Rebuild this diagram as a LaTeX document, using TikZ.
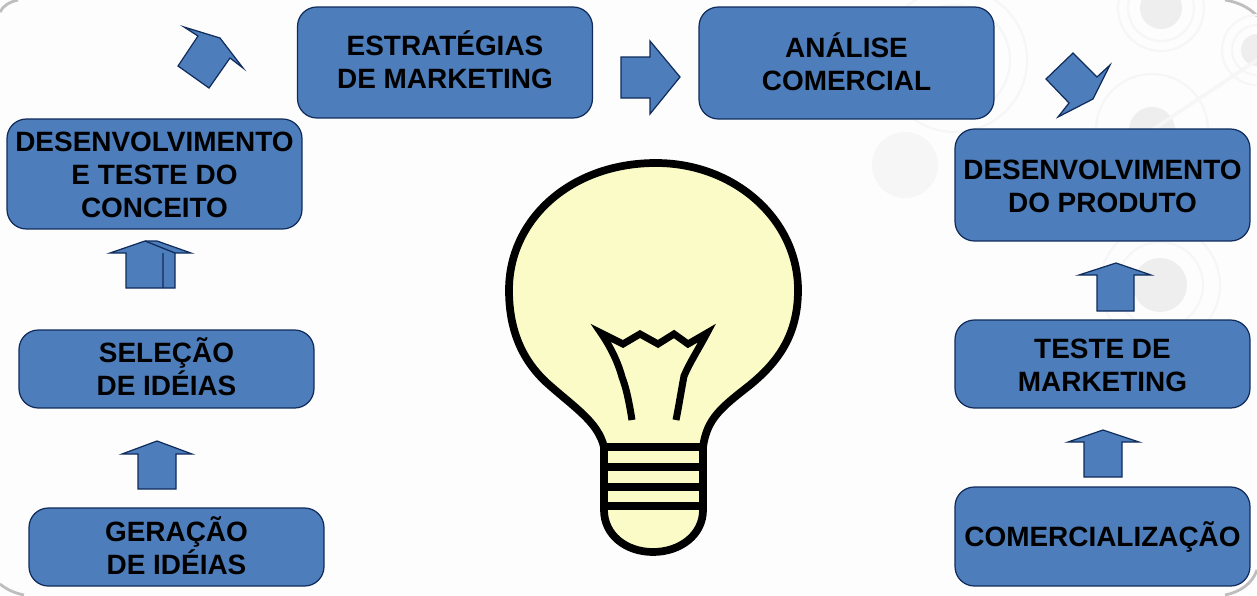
\documentclass[tikz,border=0pt]{standalone}
\usepackage{fontspec}
\setmainfont{Liberation Sans}
\definecolor{stageBlue}{RGB}{77, 125, 186}
\definecolor{stageLine}{RGB}{16, 44, 92}
\definecolor{bulbYellow}{RGB}{251, 251, 200}
\definecolor{paperGray}{RGB}{253, 253, 253}
\definecolor{ringGray}{RGB}{238, 238, 238}
\definecolor{ringPale}{RGB}{246, 246, 246}
\definecolor{cornerGray}{RGB}{190, 190, 190}
\usepackage{tikz}
\usetikzlibrary{positioning, calc}
\newcommand{\liftline}[1]{\rule[-#1]{0pt}{#1}}
\newcommand{\dropline}[1]{\rule{0pt}{#1}}

\begin{document}
\begin{tikzpicture}[
    x=0.02cm, y=-0.02cm,
    stagebox/.style={rectangle, draw=stageLine, fill=stageBlue, line width=0.7pt,
                    minimum width=5.9cm, inner sep=0pt,
                    align=center, rounded corners=11pt,
                    font=\fontsize{15.9}{18.7}\selectfont\bfseries},
    blockarrow/.style={draw=stageLine, fill=stageBlue, line width=0.7pt, line join=miter},
    bulbline/.style={draw=black, line width=4.4pt, line join=round},
    ring/.style={draw=ringPale, line width=1.2pt},
    ringcore/.style={fill=ringGray},
    cornerarc/.style={draw=cornerGray, line width=1.6pt},
  ]
    % Background
    \useasboundingbox (0,0) rectangle (1257,595);
    \fill[paperGray] (0,0) rectangle (1257,595);
    \draw[cornerarc] (0,12) .. controls (3,6) and (9,2) .. (18,0);
    \draw[cornerarc] (1225,0) .. controls (1238,2) and (1250,8) .. (1257,16);
    \draw[cornerarc] (0,584) .. controls (6,589) and (14,593) .. (24,595);
    \draw[cornerarc] (1225,595) .. controls (1240,592) and (1252,584) .. (1257,570);
    \fill[ringcore] (1161,8) circle (21);
    \draw[ring] (1161,8) circle (33) (1161,8) circle (43);
    \fill[ringcore] (1257,50) circle (16);
    \draw[ring] (1257,50) circle (25) (1257,50) circle (35);
    \fill[ringcore] (1152,130) circle (23);
    \draw[ring] (1152,130) circle (56);
    \fill[ringcore] (1160,285) circle (27);
    \draw[ring] (1160,285) circle (43) (1160,285) circle (60);
    \fill[ringPale] (905,165) circle (33);
    \draw[ring] (955,60) circle (55) (955,60) circle (72);
    \draw[ring, line width=2pt] (1152,130) -- (1257,60);

    % Stages
    \node[stagebox, minimum height=2.2cm] (CONCEITO) at (154.5,174) {\dropline{12.4pt}DESENVOLVIMENTO\\E TESTE DO\\CONCEITO};
    \node[stagebox, minimum height=2.22cm] (ESTRATEGIAS) at (445,62.5) {ESTRATÉGIAS\\DE MARKETING\liftline{3pt}};
    \node[stagebox, minimum height=2.24cm] (ANALISE) at (846.5,63) {ANÁLISE\\COMERCIAL\liftline{2pt}};
    \node[stagebox, minimum height=2.24cm] (PRODUTO) at (1102.5,185) {\dropline{12.4pt}DESENVOLVIMENTO\\DO PRODUTO};
    \node[stagebox, minimum height=1.76cm] (TESTE) at (1102.5,364) {\dropline{12.6pt}TESTE DE\\MARKETING};
    \node[stagebox, minimum height=1.98cm] (COMERCIAL) at (1102.5,536.5) {COMERCIALIZAÇÃO};
    \node[stagebox, minimum height=1.56cm] (SELECAO) at (166.5,369) {SELEÇÃO\\DE IDÉIAS\liftline{3pt}};
    \node[stagebox, minimum height=1.56cm] (GERACAO) at (176.5,547) {GERAÇÃO\\DE IDÉIAS\liftline{1.5pt}};

    % Arrows
    \draw[blockarrow] (122,454) -- (157,441) -- (192,454) -- (176,454) -- (176,489) -- (138,489) -- (138,454) -- cycle;
    \draw[blockarrow] (110,253) -- (145,241) -- (157,241) -- (191,253) -- (175,253) -- (175,288) -- (126,288) -- (126,253) -- cycle;
    \draw[blockarrow] (145,241) -- (175,253) (163,253) -- (163,288);
    \draw[blockarrow] (184,27) -- (220,38) -- (243,68) -- (230,58) -- (209,88) -- (178,66) -- (198,36) -- cycle;
    \draw[blockarrow] (621,57) -- (650,57) -- (650,41) -- (680,77) -- (650,114) -- (650,98) -- (621,98) -- cycle;
    \draw[blockarrow] (1073,53) -- (1097,77) -- (1110,65) -- (1093,99) -- (1058,117) -- (1069,103) -- (1046,79) -- cycle;
    \draw[blockarrow] (1079,275) -- (1116,263) -- (1151,275) -- (1134,275) -- (1134,311) -- (1097,311) -- (1097,275) -- cycle;
    \draw[blockarrow] (1068,442) -- (1103,430) -- (1139,442) -- (1122,442) -- (1122,477) -- (1084,477) -- (1084,442) -- cycle;

    % Bulb
    \draw[bulbline, fill=bulbYellow] (604,447)
      .. controls (598,422) and (575,408) .. (547,383)
      .. controls (522,360) and (509,330) .. (509,290)
      .. controls (509,220) and (570,163) .. (656,163)
      .. controls (735,163) and (798,220) .. (798,290)
      .. controls (798,335) and (778,362) .. (750,385)
      .. controls (722,407) and (707,418) .. (703,447)
      -- (703,510)
      .. controls (703,535) and (680,552) .. (653,552)
      .. controls (626,552) and (604,535) .. (604,510) -- cycle;
    \draw[bulbline] (604,447) -- (703,447) (604,467) -- (703,467) (604,487) -- (703,487) (604,506) -- (703,506);
    \draw[bulbline, line width=4pt, line join=miter, miter limit=10] (632,420)
      .. controls (628,395) and (625,385) .. (622,377)
      .. controls (618,362) and (610,346) .. (601,333)
      -- (623,344) -- (640,334) -- (658,344) -- (674,334) -- (688,344) -- (707,333)
      .. controls (698,350) and (690,362) .. (684,376)
      .. controls (681,392) and (679,405) .. (676,420);
  \end{tikzpicture}
\end{document}
